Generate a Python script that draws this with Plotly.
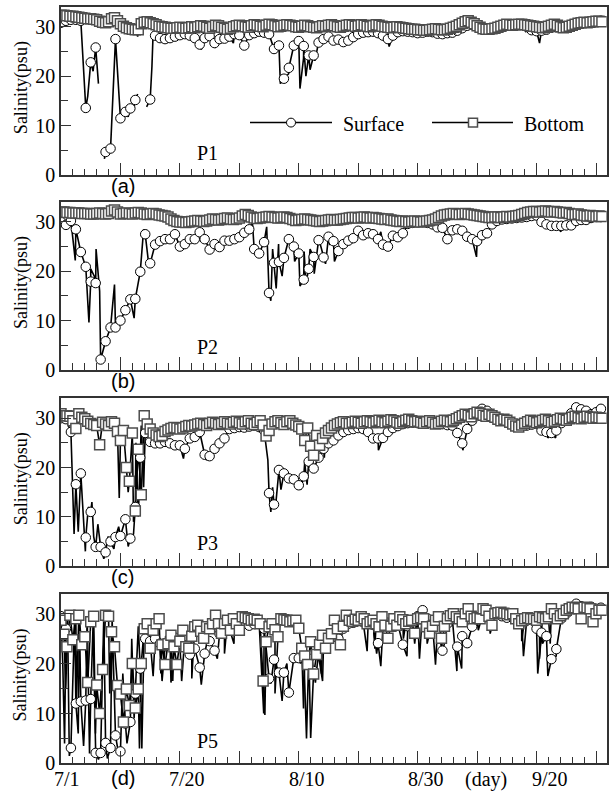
import plotly.graph_objects as go

# ---------------- data ----------------
SURF_STEP = 20 / 24   # days between surface markers
BOT_STEP = 0.5        # days between bottom markers
X_MAX = 91.8

# Panel (a) P1
p1_surface = [30.8, 31.2, 31.4, 31.4, 31.2, 13.6, 22.8, 25.8, None, 4.7,
              5.4, 27.5, 11.5, 12.8, 13.5, 15.2, None, None, 15.3, 28.2,
              27.7, 27.5, 27.7, 28.0, 28.3, 28.5, 28.2, 27.7, 26.4, 27.7,
              28.1, 26.7, 27.5, 27.6, 28.0, 28.5, 28.3, 26.2, 28.3, 28.7,
              29.0, 28.8, 28.5, 25.5, 26.2, 19.5, 21.7, 26.2, 27.1, 26.1,
              24.2, 24.2, 26.8, 27.5, 28.0, 27.2, 27.4, 26.9, 27.2, 27.9,
              28.5, 28.8, 28.9, 29.0, 28.7, 28.2, 27.5, 28.2, 28.9, 29.1,
              29.0, 28.9, 28.7, 28.8, 29.0, 28.9, 28.6, 28.5, 28.7, 28.8,
              29.2, 29.7, 30.2, 30.4, 30.3, 29.8, 29.5, 29.6, 29.8, 30.0,
              30.2, 30.4, 30.5, 30.5, 30.2, 29.3, 29.1, 29.2, 29.4, 29.8,
              29.9, 29.8, 30.1, 30.4, 30.7, 30.8, 30.9, 31.0, 31.1, 31.2]
p1_bottom = [32.3, 32.3, 32.2, 32.1, 32.1,
             32.0, 31.9, 31.8, 31.7, 31.6, 31.6, 31.5, 31.4,
             31.1, 30.9, 30.8, 31.0, 31.6, 31.8, 31.2, 30.6, 30.1, 29.8, 29.6, 29.5, 29.4, 29.4,
             30.6, 30.9, 31.0, 30.8, 30.6, 30.4,
             30.1, 30.0, 29.9, 29.8, 29.7, 29.7, 29.8, 29.9, 29.8, 29.7, 29.8, 30.0,
             29.8, 30.0, 30.2, 30.1, 29.9, 29.7, 30.0, 30.3, 30.2, 29.9, 29.7, 29.5, 29.7, 30.0, 30.2, 30.3,
             30.2, 30.0, 29.9, 30.2, 30.4, 30.3, 30.1, 30.0, 30.3, 30.5, 30.4, 30.2, 30.0, 30.1, 30.3, 30.4,
             30.3, 30.2, 30.0, 29.9, 30.1, 30.3, 30.2, 30.0, 29.9, 29.8, 30.0, 30.2,
             30.1, 30.3, 30.4, 30.2, 30.0, 29.9, 30.1, 30.3, 30.4, 30.3, 30.1, 30.2, 30.4, 30.3, 30.1,
             30.0, 30.2, 30.4, 30.3, 30.1, 30.0, 29.9, 29.8, 29.9, 30.0,
             29.9, 29.8, 29.7, 29.6, 29.5, 29.5, 29.4, 29.4, 29.3, 29.3, 29.4, 29.5, 29.6, 29.5, 29.4,
             29.4, 29.5, 29.7, 29.9, 30.1, 30.4, 30.7,
             31.0, 31.2, 30.9, 30.6, 30.2, 29.9, 29.6,
             29.5, 29.5, 29.6, 29.7, 29.9, 30.1, 30.3, 30.5, 30.4, 30.3, 30.4, 30.5, 30.5, 30.4, 30.3, 30.2,
             30.1, 30.0, 29.9, 29.8, 29.9, 30.1, 30.3, 30.5, 30.3, 30.0, 29.8,
             29.9, 30.1, 30.3, 30.5, 30.7, 30.8, 30.9, 30.8, 30.9, 31.0, 31.1, 31.1, 31.0]
p1_surface_spike_day = [4.5, 5.4, 6.3, 7.3, 11.3, 12.2, 12.9, 14.4, 15.3, 15.5, 23.6, 25.9,
                        29.0, 36.0, 36.9, 38.3, 40.2, 40.8, 41.2, 41.9, 42.7, 55.2, 78.2, 80.5]
p1_surface_spike_val = [16.0, 21.0, 18.5, 3.3, 11.8, 13.3, 16.4, 13.8, 22.0, 28.8, 25.4, 25.7,
                        26.7, 26.7, 18.5, 20.5, 17.5, 23.6, 20.0, 21.3, 23.1, 26.0, 28.9, 26.7]
p1_bottom_spike_day = [12.9]
p1_bottom_spike_val = [28.0]

# Panel (b) P2
p2_surface = [30.0, 29.4, 30.2, 28.5, 23.9, 20.9, 17.9, 17.6, 2.1, 5.8,
              8.6, 8.6, 10.0, 12.1, 14.3, 14.4, 19.9, 27.5, 21.6, 25.4,
              26.1, 26.5, 26.5, 27.5, 25.0, 25.5, 26.5, 26.5, 27.9, 26.5,
              24.4, 25.5, 24.9, 26.2, 26.2, 26.5, 26.9, 27.8, 28.5, 24.5,
              23.6, 25.9, 15.6, 21.7, 21.9, 22.7, 26.5, 25.0, 23.6, 18.3,
              20.5, 22.9, 26.3, 22.8, 27.0, 26.1, 24.1, 25.5, 26.2, 26.7,
              28.2, 27.3, 27.7, 27.5, 26.5, 25.4, 25.0, 27.2, 26.9, 27.7,
              29.6, 29.8, 29.9, 30.0, 29.8, 29.5, 28.9, 28.8, 26.5, 28.3,
              28.5, 28.2, 27.0, 26.5, 26.1, 27.3, 27.7, 29.5, 30.2, 30.5,
              30.6, 30.7, 30.8, 30.9, 31.0, 31.2, 31.3, 30.0, 29.5, 29.2,
              29.2, 29.2, 29.3, 29.3, 30.2, 30.4, 30.4, 30.8, 31.0, 31.0]
p2_bottom = [32.0, 32.0, 31.9, 31.9, 31.8, 31.8, 31.8, 31.7, 31.7, 31.7, 31.6, 31.6, 31.7, 31.8, 31.7, 31.6, 31.7,
             32.2, 32.4, 32.0, 31.6,
             31.7, 31.8, 31.7, 31.6, 31.8, 31.9, 31.8, 31.6, 31.5, 31.6, 31.7, 31.6, 31.4, 31.3, 31.2, 31.0,
             30.6, 30.3, 30.1, 30.0, 30.0, 29.9, 30.0, 30.1, 30.2, 30.3, 30.2, 30.1, 30.2, 30.4, 30.6, 30.5,
             30.4, 30.5, 30.7, 30.8, 30.6, 30.5, 30.6, 30.8, 31.2, 31.5,
             31.3, 31.0, 30.8, 30.7, 30.8, 30.9, 31.0, 31.1, 31.0, 30.9, 30.8, 30.9, 31.0, 30.9, 30.7, 30.5,
             30.3, 30.4,
             30.5, 30.6, 30.5, 30.4, 30.3, 30.2, 30.1, 30.2, 30.3, 30.4, 30.5, 30.4,
             30.4, 30.5, 30.6, 30.7, 30.8, 30.9, 30.9, 30.8, 30.9, 31.0, 30.9, 30.8, 30.9, 30.8, 30.7, 30.6,
             30.5, 30.6,
             30.4, 30.3, 30.2, 30.1, 30.2, 30.1, 30.0, 30.1, 30.2, 30.1, 30.0, 30.1, 30.2, 30.3, 30.4, 30.6,
             30.9, 31.2, 31.4, 31.5,
             31.6, 31.7, 31.6, 31.5, 31.6, 31.7, 31.6, 31.5, 31.4, 31.3, 31.2, 31.1,
             31.0, 30.9, 30.9, 31.0, 31.0, 30.9, 31.0, 31.1, 31.0, 31.1, 31.2, 31.3, 31.5, 31.7,
             31.9, 32.0, 32.1, 32.1, 32.0, 32.1, 32.2, 32.1, 32.0, 32.1, 32.0, 31.9, 31.8, 31.9, 31.7, 31.5,
             31.5,
             31.6, 31.4, 31.3, 31.2, 31.3, 31.2, 31.1, 31.2, 31.1]
p2_surface_spike_day = [2.4, 4.7, 5.0, 5.6, 5.9, 6.5, 9.0, 9.7, 12.3, 13.9, 14.8, 32.2, 33.0, 34.6,
                        35.3, 35.6, 36.2, 36.6, 37.2, 38.0, 39.3, 40.2, 40.9, 41.2, 41.9, 42.6, 43.6,
                        44.5, 45.2, 46.0, 53.8, 54.6, 69.9, 84.1]
p2_surface_spike_val = [22.2, 9.6, 20.5, 19.0, 24.5, 16.0, 17.3, 9.0, 10.5, 28.5, 21.0, 29.9, 23.2, 29.0,
                        14.0, 24.5, 16.5, 25.5, 19.0, 25.0, 22.0, 17.0, 24.0, 17.5, 24.5, 19.5, 25.5,
                        21.5, 25.5, 22.0, 28.0, 24.5, 22.9, 28.0]
p2_bottom_spike_day = []
p2_bottom_spike_val = []

# Panel (c) P3
p3_surface = [30.0, 29.8, 27.2, 16.6, 18.8, 5.8, 11.0, 3.9, 3.9, 2.8,
              5.0, 5.9, 6.1, 9.5, 5.6, 12.0, 22.0, 27.0, 25.2, 24.9,
              24.9, 25.2, 24.9, 24.5, 24.5, 23.8, 25.9, 26.2, 27.2, 22.6,
              22.3, 23.8, 24.9, 25.9, 27.8, 28.0, 28.2, 28.1, 28.3, 28.5,
              28.2, 27.5, 14.8, 12.5, 19.5, 18.8, 17.8, 17.6, 16.4, 18.2,
              21.2, 19.8, 22.0, 23.8, 24.9, 25.5, 26.5, 27.2, 27.6, 27.8,
              28.0, 27.8, 27.2, 25.9, 25.9, 26.0, 27.2, 28.0, 28.4, 28.8,
              29.0, 29.1, 29.0, 28.9, 29.1, 29.2, 29.0, 28.8, 28.6, 28.5,
              27.0, 24.9, 27.8, 29.5, 30.8, 31.9, 31.5, 30.5, 29.8, 29.5,
              29.2, 28.9, 28.8, 28.6, 28.5, 28.7, 28.9, 27.5, 27.2, 27.0,
              27.5, 29.0, 30.0, 31.0, 32.2, 31.8, 31.5, 30.8, 31.2, 31.9]
p3_bottom = [30.9, 30.5, 30.5, 30.4, 29.5, 27.9, 30.9, 30.2, 29.9, 29.4,
             28.9, 28.7, 28.5, 24.6, 29.2, 28.8, 28.5, 29.3, 29.0, 27.3,
             25.5, 27.5, 20.0, 17.2, 27.0, 11.2, 23.7, 14.5, 30.5, 28.8,
             27.8, 27.0, 26.6, 26.3, 26.5,
             27.3, 27.6, 27.9, 28.1, 28.0, 27.8, 28.0, 28.3, 28.5, 28.4,
             28.6, 28.8, 29.0, 28.7, 28.5, 28.9, 29.2, 29.0, 28.7, 28.9, 29.3, 29.0, 28.8, 29.2, 29.4, 29.1,
             28.8, 29.3, 29.5, 29.0, 28.7, 29.2, 29.5, 28.6, 26.4, 27.5, 28.8, 29.3,
             29.5, 29.1, 28.7, 29.3, 29.5, 29.0, 28.6, 28.3,
             27.8, 25.5, 28.0, 24.3, 22.5, 26.5, 24.5, 25.9, 27.0, 27.5,
             28.0, 28.5, 28.8, 29.1, 29.3, 29.0, 28.9, 29.2, 29.4, 29.2, 29.0, 29.3, 29.5, 29.3, 29.1, 29.4,
             29.6, 29.3, 29.1, 29.4, 29.7, 29.5, 29.2, 29.0, 29.3, 29.6, 29.8, 29.5, 29.3, 29.4, 29.2, 29.0,
             29.3, 29.5, 29.2, 28.8, 29.0, 29.4, 29.6, 29.5, 29.3, 29.6,
             29.9, 30.2, 30.5, 30.8, 30.6, 30.3, 30.9, 31.2, 31.0, 30.6, 30.4, 30.8,
             30.5, 30.2, 29.8, 29.5, 29.8, 29.6, 29.2, 28.8, 28.4, 28.2, 28.6, 29.0,
             29.3, 29.6, 29.4, 29.1, 29.3, 29.6, 29.8, 29.5, 29.2, 29.4, 29.7, 30.0, 29.8, 29.6, 29.9, 30.2,
             30.4, 30.1, 29.9, 30.2, 30.4, 30.2, 30.0, 30.2, 30.1, 30.0]
p3_surface_spike_day = [2.2, 2.9, 3.6, 4.1, 4.6, 5.2, 5.5, 6.2, 7.2, 7.9, 8.9, 9.7, 11.3, 12.2, 12.6,
                        13.0, 13.5, 13.9, 20.6, 24.5, 34.8, 35.3, 35.6, 36.2, 37.0, 40.3, 41.0, 41.4,
                        42.0, 53.4, 67.6, 81.9, 83.2]
p3_surface_spike_val = [6.5, 7.0, 14.0, 3.0, 12.0, 13.0, 6.0, 8.5, 1.5, 6.0, 3.5, 8.0, 4.0, 6.5, 25.0,
                        10.0, 28.5, 16.0, 21.8, 21.5, 21.5, 11.0, 16.0, 13.5, 15.5, 15.5, 21.0, 16.5,
                        21.5, 23.5, 23.5, 26.0, 26.0]
p3_bottom_spike_day = [9.8, 11.3, 12.2, 42.2, 44.3]
p3_bottom_spike_val = [13.8, 15.0, 9.0, 20.0, 22.0]

# Panel (d) P5
p5_surface = [29.5, 27.0, 3.1, 12.0, 12.4, 12.6, 12.9, 2.1, 2.1, 4.1,
              3.1, 5.6, 2.4, 8.0, 8.3, 14.0, 19.0, 25.0, 24.5, 25.0,
              24.0, 23.5, 24.8, 25.2, 24.0, 25.5, 21.8, 23.0, 19.2, 22.0,
              24.5, 22.6, 26.0, 26.5, 27.0, 27.5, 27.8, 28.0, 27.6, 27.9,
              28.2, 27.0, 17.0, 20.8, 18.2, 18.2, 14.2, 21.1, 21.1, 22.0,
              21.0, 18.5, 22.5, 24.0, 24.8, 26.0, 25.0, 27.0, 28.0, 28.2,
              28.5, 28.3, 28.0, 27.8, 24.1, 27.5, 28.2, 28.5, 28.0, 23.8,
              27.5, 28.5, 29.5, 30.7, 29.0, 28.0, 27.0, 22.6, 28.0, 29.0,
              23.4, 25.5, 24.1, 27.4, 29.0, 29.5, 30.0, 29.8, 30.0, 29.5,
              29.2, 29.5, 28.8, 28.5, 28.6, 28.9, 27.0, 26.2, 25.5, 20.9,
              22.9, 29.0, 30.0, 31.0, 32.0, 31.5, 31.0, 31.4, 31.0, 31.2]
p5_bottom = [28.7, 25.9, 23.4, 29.7, 24.8, 29.0, 29.7, 23.8, 25.4, 16.2,
             28.4, 29.5, 15.7, 10.0, 18.8, 29.7, 29.5, 26.4, 23.4, 15.6,
             13.9, 8.3, 14.9, 11.6, 20.0, 11.1, 14.9, 20.0, 27.0, 28.0,
             23.1, 26.7, 28.0, 29.0, 23.8, 19.8, 24.0, 25.7, 23.4, 19.8,
             24.5, 26.7, 23.4, 23.1, 25.5, 27.4, 27.7, 26.5, 25.1, 27.4,
             27.0, 28.0, 29.7, 28.0, 26.1, 28.0, 28.7, 26.7, 29.0, 28.0,
             26.7, 29.4, 29.2, 29.0, 28.7, 28.9, 28.7, 28.0, 16.5, 24.4,
             27.4, 28.0, 26.8, 25.4, 29.0, 28.8, 28.7, 28.4, 28.6, 28.7,
             27.1, 23.1, 21.5, 19.8, 24.4, 17.9, 21.8, 23.8, 25.7, 23.1,
             25.1, 26.0, 28.7, 27.0, 23.8, 27.5, 29.7, 28.7, 28.5, 28.9,
             28.7, 29.4, 29.0, 28.0, 28.4, 28.7, 28.0, 27.4, 29.4, 27.7,
             25.1, 27.5, 29.0, 27.7, 29.4, 28.8, 28.0, 28.5, 28.7, 26.1,
             29.0, 29.2, 29.0, 27.4, 26.1, 27.5, 28.7, 29.4, 25.1, 27.5,
             29.0, 29.6, 30.0, 29.4, 29.0, 28.4, 30.0, 31.0, 29.5, 29.0,
             29.2, 29.0, 31.0, 30.7, 29.5, 27.7, 30.0, 30.2, 30.3, 30.1,
             30.0, 29.8, 30.0, 29.0, 28.0, 28.6, 29.0, 29.2, 29.0, 29.0,
             28.7, 29.4, 29.2, 29.0, 29.4, 31.0, 30.0, 29.0, 29.6, 30.0,
             30.7, 31.0, 31.3, 31.2, 31.0, 29.0, 31.3, 31.2, 31.0, 28.4,
             30.0, 30.7, 30.7]
p5_surface_spike_day = [0.3, 0.6, 1.1, 1.4, 2.3, 2.9, 3.1, 3.8, 4.4, 4.8, 5.4, 6.3, 7.2, 7.8, 8.6,
                        9.6, 10.4, 11.1, 11.9, 12.3, 13.0, 13.6, 14.0, 15.5, 16.2, 17.0, 17.6, 18.5,
                        19.5, 20.3, 21.2, 23.6, 24.6, 26.3, 28.2, 29.1, 34.1, 34.6, 35.3, 37.2, 38.0,
                        40.3, 41.3, 41.7, 42.0, 42.8, 43.4, 44.0, 45.0, 51.5, 53.1, 53.8, 58.2, 59.5,
                        60.3, 63.0, 64.5, 66.6, 67.4, 70.2, 77.8, 80.2, 81.0, 81.9, 83.3]
p5_surface_spike_val = [20.0, 4.0, 29.0, 1.5, 29.5, 6.0, 29.0, 3.5, 29.5, 2.0, 28.0, 0.8, 29.5, 1.0, 29.0,
                        2.5, 18.0, 4.0, 25.0, 9.0, 27.5, 3.0, 27.0, 17.5, 27.0, 16.5, 25.5, 16.2,
                        26.0, 16.5, 24.0, 15.8, 24.5, 21.0, 26.5, 24.0, 10.0, 22.0, 16.0, 12.5, 20.0,
                        20.0, 5.0, 22.0, 5.1, 16.2, 21.0, 16.5, 24.0, 22.5, 22.0, 19.5, 21.5, 24.0,
                        21.0, 19.8, 24.0, 18.5, 19.0, 26.7, 21.5, 18.0, 24.0, 17.5, 21.5]
p5_bottom_spike_day = [0.8, 2.6, 5.8, 8.2, 13.2, 16.8, 18.8, 22.0, 27.5, 34.3, 36.0, 40.8, 43.8,
                       52.8, 57.6, 61.6, 64.0, 72.2, 77.5, 80.5, 82.3]
p5_bottom_spike_val = [15.0, 12.0, 6.0, 14.0, 3.0, 18.0, 16.5, 17.0, 22.0, 9.7, 14.0, 11.0, 18.0,
                       23.0, 25.0, 24.0, 23.0, 26.0, 24.5, 21.0, 24.0]

station_labels = ["P1", "P2", "P3", "P5"]
panel_letters = ["(a)", "(b)", "(c)", "(d)"]
date_labels = ["7/1", "7/20", "8/10", "8/30", "(day)", "9/20"]
date_label_days = [1.0, 21.2, 41.4, 61.4, 71.5, 82.2]
legend_names = ["Surface", "Bottom"]
y_title = "Salinity(psu)"

panels = [
    (p1_surface, p1_bottom, p1_surface_spike_day, p1_surface_spike_val, p1_bottom_spike_day, p1_bottom_spike_val),
    (p2_surface, p2_bottom, p2_surface_spike_day, p2_surface_spike_val, p2_bottom_spike_day, p2_bottom_spike_val),
    (p3_surface, p3_bottom, p3_surface_spike_day, p3_surface_spike_val, p3_bottom_spike_day, p3_bottom_spike_val),
    (p5_surface, p5_bottom, p5_surface_spike_day, p5_surface_spike_val, p5_bottom_spike_day, p5_bottom_spike_val),
]

# ---------------- layout geometry (pixels) ----------------
W, H = 614, 803
PX_L, PX_R = 61, 606.7
panel_px = [(7, 177.7), (205, 375), (404, 574), (602, 774)]  # (top, bottom)


def px(x):
    return x / W


def py(y):
    return (H - y) / H


def positions(values, step):
    return [i * step for i in range(len(values))]


def merged(x, y, sx, sy):
    pts = sorted(zip(list(x) + list(sx), list(y) + list(sy)), key=lambda p: p[0])
    return [p[0] for p in pts], [p[1] for p in pts]


SERIF = "Liberation Serif"
SANS = "Liberation Sans"
AX = "#333333"


def note(text, x, y, size, family=SERIF, xref="paper", xanchor="center", angle=0):
    return dict(text=text, x=x, y=y, xref=xref, yref="paper", xanchor=xanchor,
                yanchor="middle", textangle=angle, showarrow=False, borderpad=0,
                font=dict(family=family, size=size, color="black"))


fig = go.Figure()
layout = dict(width=W, height=H, margin=dict(l=0, r=0, t=0, b=0), autosize=False,
              paper_bgcolor="white", plot_bgcolor="white", showlegend=False)
annotations = []
shapes = []

for i, (surf, bot, ssd, ssv, bsd, bsv) in enumerate(panels):
    n = "" if i == 0 else str(i + 1)
    xa, ya = "x" + n, "y" + n
    sx = positions(surf, SURF_STEP)
    bx = positions(bot, BOT_STEP)
    lx, ly = merged(sx, surf, ssd, ssv)
    fig.add_trace(go.Scatter(x=lx, y=ly, mode="lines", line=dict(color="black", width=1.6),
                             xaxis=xa, yaxis=ya, hoverinfo="skip"))
    lbx, lby = merged(bx, bot, bsd, bsv)
    fig.add_trace(go.Scatter(x=lbx, y=lby, mode="lines", line=dict(color="black", width=1.6),
                             xaxis=xa, yaxis=ya, hoverinfo="skip"))
    fig.add_trace(go.Scatter(x=sx, y=surf, mode="markers", name=legend_names[0],
                             marker=dict(symbol="circle", size=9.5, color="white",
                                         line=dict(color="black", width=1)),
                             xaxis=xa, yaxis=ya))
    fig.add_trace(go.Scatter(x=bx, y=bot, mode="markers", name=legend_names[1],
                             marker=dict(symbol="square", size=10, color="white",
                                         line=dict(color="#4d4d4d", width=1.5)),
                             xaxis=xa, yaxis=ya))

    top, bottom = panel_px[i]
    layout["xaxis" + n] = dict(
        domain=[px(PX_L), px(PX_R)], range=[0, X_MAX], anchor=ya,
        showline=True, mirror=True, linecolor=AX, linewidth=1.5,
        ticks="inside", ticklen=13, tickwidth=1.2, tickcolor=AX, tick0=0, dtick=10,
        minor=dict(ticks="inside", ticklen=7, tickwidth=1, tickcolor=AX, tick0=0, dtick=2),
        showticklabels=False, showgrid=False, zeroline=False)
    layout["yaxis" + n] = dict(
        domain=[py(bottom), py(top)], range=[0, 34], anchor=xa,
        showline=True, mirror=True, linecolor=AX, linewidth=1.5,
        ticks="inside", ticklen=10, tickwidth=1.2, tickcolor=AX, tick0=0, dtick=10,
        minor=dict(ticks="inside", ticklen=7, tickwidth=1, tickcolor=AX, tick0=0, dtick=5),
        tickfont=dict(family=SERIF, size=20, color="black"),
        showgrid=False, zeroline=False)

    mid = (top + bottom) / 2 - 3
    annotations.append(note(y_title, px(21), py(mid), 18, angle=-90))
    annotations.append(note(station_labels[i], px(207.5), py(bottom - 23), 20))
    letter_y = bottom + (15 if i == 3 else 11)
    annotations.append(note(panel_letters[i], px(122.5), py(letter_y), 20, family=SANS))

# date labels under the last panel (placed in day units of the bottom axis)
for d, t in zip(date_label_days, date_labels):
    annotations.append(note(t, d, py(790), 20, xref="x4"))

# legend drawn in panel (a)
LEG_Y = 124.3
shapes.append(dict(type="line", xref="paper", yref="paper", x0=px(250), x1=px(332),
                   y0=py(LEG_Y), y1=py(LEG_Y), line=dict(color="black", width=1.5)))
shapes.append(dict(type="circle", xref="paper", yref="paper", x0=px(286.5), x1=px(295.5),
                   y0=py(LEG_Y + 4.5), y1=py(LEG_Y - 4.5), fillcolor="white",
                   line=dict(color="black", width=1)))
shapes.append(dict(type="line", xref="paper", yref="paper", x0=px(432), x1=px(513),
                   y0=py(LEG_Y), y1=py(LEG_Y), line=dict(color="black", width=1.5)))
shapes.append(dict(type="rect", xref="paper", yref="paper", x0=px(468.5), x1=px(477.5),
                   y0=py(LEG_Y + 4.5), y1=py(LEG_Y - 4.5), fillcolor="white",
                   line=dict(color="#4d4d4d", width=1.5)))
annotations.append(note(legend_names[0], px(342), py(LEG_Y + 1), 20, xanchor="left"))
annotations.append(note(legend_names[1], px(523), py(LEG_Y + 1), 20, xanchor="left"))

layout["annotations"] = annotations
layout["shapes"] = shapes
fig.update_layout(**layout)
fig.write_html("out.html", config={"displayModeBar": False})
